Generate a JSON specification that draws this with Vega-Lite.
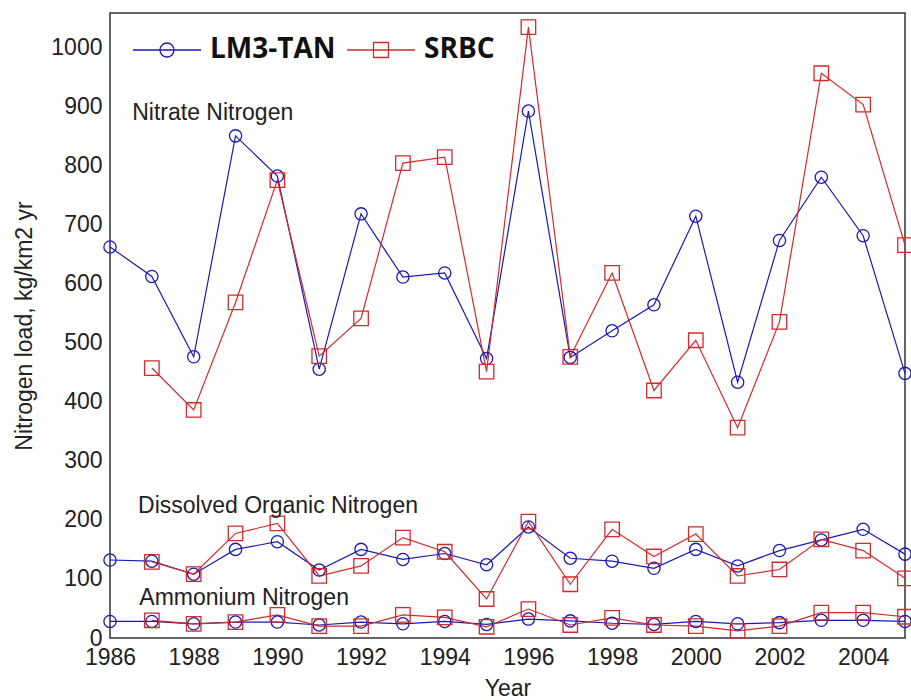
{
  "$schema": "https://vega.github.io/schema/vega-lite/v6.json",
  "autosize": "none",
  "width": 795,
  "height": 625,
  "padding": {"left": 110, "top": 13, "right": 6, "bottom": 62},
  "background": "white",
  "datasets": {
    "loads": [
      {"year": 1986, "site": "LM3-TAN", "kind": "Nitrate", "load": 662},
      {"year": 1987, "site": "LM3-TAN", "kind": "Nitrate", "load": 612},
      {"year": 1988, "site": "LM3-TAN", "kind": "Nitrate", "load": 476},
      {"year": 1989, "site": "LM3-TAN", "kind": "Nitrate", "load": 850},
      {"year": 1990, "site": "LM3-TAN", "kind": "Nitrate", "load": 782},
      {"year": 1991, "site": "LM3-TAN", "kind": "Nitrate", "load": 455},
      {"year": 1992, "site": "LM3-TAN", "kind": "Nitrate", "load": 718},
      {"year": 1993, "site": "LM3-TAN", "kind": "Nitrate", "load": 611},
      {"year": 1994, "site": "LM3-TAN", "kind": "Nitrate", "load": 618},
      {"year": 1995, "site": "LM3-TAN", "kind": "Nitrate", "load": 473},
      {"year": 1996, "site": "LM3-TAN", "kind": "Nitrate", "load": 892},
      {"year": 1997, "site": "LM3-TAN", "kind": "Nitrate", "load": 475},
      {"year": 1998, "site": "LM3-TAN", "kind": "Nitrate", "load": 520},
      {"year": 1999, "site": "LM3-TAN", "kind": "Nitrate", "load": 564},
      {"year": 2000, "site": "LM3-TAN", "kind": "Nitrate", "load": 714},
      {"year": 2001, "site": "LM3-TAN", "kind": "Nitrate", "load": 433},
      {"year": 2002, "site": "LM3-TAN", "kind": "Nitrate", "load": 673},
      {"year": 2003, "site": "LM3-TAN", "kind": "Nitrate", "load": 780},
      {"year": 2004, "site": "LM3-TAN", "kind": "Nitrate", "load": 681},
      {"year": 2005, "site": "LM3-TAN", "kind": "Nitrate", "load": 448},
      {"year": 1987, "site": "SRBC", "kind": "Nitrate", "load": 457},
      {"year": 1988, "site": "SRBC", "kind": "Nitrate", "load": 386},
      {"year": 1989, "site": "SRBC", "kind": "Nitrate", "load": 568},
      {"year": 1990, "site": "SRBC", "kind": "Nitrate", "load": 775},
      {"year": 1991, "site": "SRBC", "kind": "Nitrate", "load": 477},
      {"year": 1992, "site": "SRBC", "kind": "Nitrate", "load": 541},
      {"year": 1993, "site": "SRBC", "kind": "Nitrate", "load": 804},
      {"year": 1994, "site": "SRBC", "kind": "Nitrate", "load": 814},
      {"year": 1995, "site": "SRBC", "kind": "Nitrate", "load": 451},
      {"year": 1996, "site": "SRBC", "kind": "Nitrate", "load": 1034},
      {"year": 1997, "site": "SRBC", "kind": "Nitrate", "load": 476},
      {"year": 1998, "site": "SRBC", "kind": "Nitrate", "load": 618},
      {"year": 1999, "site": "SRBC", "kind": "Nitrate", "load": 419},
      {"year": 2000, "site": "SRBC", "kind": "Nitrate", "load": 504},
      {"year": 2001, "site": "SRBC", "kind": "Nitrate", "load": 356},
      {"year": 2002, "site": "SRBC", "kind": "Nitrate", "load": 535},
      {"year": 2003, "site": "SRBC", "kind": "Nitrate", "load": 956},
      {"year": 2004, "site": "SRBC", "kind": "Nitrate", "load": 903},
      {"year": 2005, "site": "SRBC", "kind": "Nitrate", "load": 665},
      {"year": 1986, "site": "LM3-TAN", "kind": "DON", "load": 132},
      {"year": 1987, "site": "LM3-TAN", "kind": "DON", "load": 130},
      {"year": 1988, "site": "LM3-TAN", "kind": "DON", "load": 108},
      {"year": 1989, "site": "LM3-TAN", "kind": "DON", "load": 150},
      {"year": 1990, "site": "LM3-TAN", "kind": "DON", "load": 163},
      {"year": 1991, "site": "LM3-TAN", "kind": "DON", "load": 115},
      {"year": 1992, "site": "LM3-TAN", "kind": "DON", "load": 150},
      {"year": 1993, "site": "LM3-TAN", "kind": "DON", "load": 133},
      {"year": 1994, "site": "LM3-TAN", "kind": "DON", "load": 143},
      {"year": 1995, "site": "LM3-TAN", "kind": "DON", "load": 124},
      {"year": 1996, "site": "LM3-TAN", "kind": "DON", "load": 188},
      {"year": 1997, "site": "LM3-TAN", "kind": "DON", "load": 135},
      {"year": 1998, "site": "LM3-TAN", "kind": "DON", "load": 130},
      {"year": 1999, "site": "LM3-TAN", "kind": "DON", "load": 118},
      {"year": 2000, "site": "LM3-TAN", "kind": "DON", "load": 150},
      {"year": 2001, "site": "LM3-TAN", "kind": "DON", "load": 122},
      {"year": 2002, "site": "LM3-TAN", "kind": "DON", "load": 148},
      {"year": 2003, "site": "LM3-TAN", "kind": "DON", "load": 166},
      {"year": 2004, "site": "LM3-TAN", "kind": "DON", "load": 184},
      {"year": 2005, "site": "LM3-TAN", "kind": "DON", "load": 142},
      {"year": 1987, "site": "SRBC", "kind": "DON", "load": 129},
      {"year": 1988, "site": "SRBC", "kind": "DON", "load": 108},
      {"year": 1989, "site": "SRBC", "kind": "DON", "load": 177},
      {"year": 1990, "site": "SRBC", "kind": "DON", "load": 194},
      {"year": 1991, "site": "SRBC", "kind": "DON", "load": 105},
      {"year": 1992, "site": "SRBC", "kind": "DON", "load": 122},
      {"year": 1993, "site": "SRBC", "kind": "DON", "load": 170},
      {"year": 1994, "site": "SRBC", "kind": "DON", "load": 146},
      {"year": 1995, "site": "SRBC", "kind": "DON", "load": 66},
      {"year": 1996, "site": "SRBC", "kind": "DON", "load": 197},
      {"year": 1997, "site": "SRBC", "kind": "DON", "load": 91},
      {"year": 1998, "site": "SRBC", "kind": "DON", "load": 184},
      {"year": 1999, "site": "SRBC", "kind": "DON", "load": 138},
      {"year": 2000, "site": "SRBC", "kind": "DON", "load": 176},
      {"year": 2001, "site": "SRBC", "kind": "DON", "load": 105},
      {"year": 2002, "site": "SRBC", "kind": "DON", "load": 116},
      {"year": 2003, "site": "SRBC", "kind": "DON", "load": 167},
      {"year": 2004, "site": "SRBC", "kind": "DON", "load": 148},
      {"year": 2005, "site": "SRBC", "kind": "DON", "load": 101},
      {"year": 1986, "site": "LM3-TAN", "kind": "Ammonium", "load": 28},
      {"year": 1987, "site": "LM3-TAN", "kind": "Ammonium", "load": 28},
      {"year": 1988, "site": "LM3-TAN", "kind": "Ammonium", "load": 24},
      {"year": 1989, "site": "LM3-TAN", "kind": "Ammonium", "load": 27},
      {"year": 1990, "site": "LM3-TAN", "kind": "Ammonium", "load": 27},
      {"year": 1991, "site": "LM3-TAN", "kind": "Ammonium", "load": 22},
      {"year": 1992, "site": "LM3-TAN", "kind": "Ammonium", "load": 27},
      {"year": 1993, "site": "LM3-TAN", "kind": "Ammonium", "load": 24},
      {"year": 1994, "site": "LM3-TAN", "kind": "Ammonium", "load": 28},
      {"year": 1995, "site": "LM3-TAN", "kind": "Ammonium", "load": 23},
      {"year": 1996, "site": "LM3-TAN", "kind": "Ammonium", "load": 32},
      {"year": 1997, "site": "LM3-TAN", "kind": "Ammonium", "load": 29},
      {"year": 1998, "site": "LM3-TAN", "kind": "Ammonium", "load": 25},
      {"year": 1999, "site": "LM3-TAN", "kind": "Ammonium", "load": 23},
      {"year": 2000, "site": "LM3-TAN", "kind": "Ammonium", "load": 28},
      {"year": 2001, "site": "LM3-TAN", "kind": "Ammonium", "load": 24},
      {"year": 2002, "site": "LM3-TAN", "kind": "Ammonium", "load": 26},
      {"year": 2003, "site": "LM3-TAN", "kind": "Ammonium", "load": 30},
      {"year": 2004, "site": "LM3-TAN", "kind": "Ammonium", "load": 30},
      {"year": 2005, "site": "LM3-TAN", "kind": "Ammonium", "load": 28},
      {"year": 1987, "site": "SRBC", "kind": "Ammonium", "load": 30},
      {"year": 1988, "site": "SRBC", "kind": "Ammonium", "load": 24},
      {"year": 1989, "site": "SRBC", "kind": "Ammonium", "load": 27},
      {"year": 1990, "site": "SRBC", "kind": "Ammonium", "load": 39},
      {"year": 1991, "site": "SRBC", "kind": "Ammonium", "load": 20},
      {"year": 1992, "site": "SRBC", "kind": "Ammonium", "load": 20},
      {"year": 1993, "site": "SRBC", "kind": "Ammonium", "load": 39},
      {"year": 1994, "site": "SRBC", "kind": "Ammonium", "load": 35},
      {"year": 1995, "site": "SRBC", "kind": "Ammonium", "load": 19},
      {"year": 1996, "site": "SRBC", "kind": "Ammonium", "load": 49},
      {"year": 1997, "site": "SRBC", "kind": "Ammonium", "load": 22},
      {"year": 1998, "site": "SRBC", "kind": "Ammonium", "load": 34},
      {"year": 1999, "site": "SRBC", "kind": "Ammonium", "load": 22},
      {"year": 2000, "site": "SRBC", "kind": "Ammonium", "load": 20},
      {"year": 2001, "site": "SRBC", "kind": "Ammonium", "load": 12},
      {"year": 2002, "site": "SRBC", "kind": "Ammonium", "load": 20},
      {"year": 2003, "site": "SRBC", "kind": "Ammonium", "load": 43},
      {"year": 2004, "site": "SRBC", "kind": "Ammonium", "load": 43},
      {"year": 2005, "site": "SRBC", "kind": "Ammonium", "load": 36}
    ],
    "labels": [
      {"year": 1986.53, "load": 877, "text": "Nitrate Nitrogen"},
      {"year": 1986.67, "load": 212, "text": "Dissolved Organic Nitrogen"},
      {"year": 1986.7, "load": 56, "text": "Ammonium Nitrogen"}
    ],
    "xticks": [
      {"year": 1986}, {"year": 1988}, {"year": 1990}, {"year": 1992}, {"year": 1994},
      {"year": 1996}, {"year": 1998}, {"year": 2000}, {"year": 2002}, {"year": 2004}
    ],
    "yticks": [
      {"load": 0}, {"load": 100}, {"load": 200}, {"load": 300}, {"load": 400}, {"load": 500},
      {"load": 600}, {"load": 700}, {"load": 800}, {"load": 900}, {"load": 1000}
    ]
  },
  "config": {
    "view": {"stroke": "#333333", "strokeWidth": 1.5},
    "axis": {
      "grid": false,
      "domain": false,
      "ticks": false,
      "tickSize": 0,
      "labelFont": "Liberation Sans",
      "labelFontSize": 23,
      "labelColor": "#222222",
      "titleFont": "Liberation Sans",
      "titleFontSize": 23,
      "titleFontWeight": "normal",
      "titleColor": "#222222",
      "labelPadding": 8
    },
    "legend": {
      "title": null,
      "orient": "none",
      "direction": "horizontal",
      "legendX": 22,
      "legendY": 2,
      "padding": 0,
      "columnPadding": 8,
      "labelOffset": 8,
      "labelFont": "Open Sans",
      "labelFontSize": 28,
      "labelFontWeight": "bold",
      "labelColor": "#111111",
      "symbolSize": 4624,
      "symbolStrokeWidth": 1.3,
      "symbolFillColor": "transparent"
    }
  },
  "encoding": {
    "x": {
      "field": "year", "type": "quantitative",
      "scale": {"domain": [1986, 2005], "nice": false, "zero": false},
      "axis": {
        "title": "Year",
        "values": [1986, 1988, 1990, 1992, 1994, 1996, 1998, 2000, 2002, 2004],
        "format": "d",
        "labelFlush": false,
        "titlePadding": 8
      }
    },
    "y": {
      "field": "load", "type": "quantitative",
      "scale": {"domain": [0, 1058], "nice": false},
      "axis": {
        "title": "Nitrogen load, kg/km2 yr",
        "values": [0, 100, 200, 300, 400, 500, 600, 700, 800, 900, 1000],
        "format": "d",
        "labelFlush": false,
        "titlePadding": 14
      }
    }
  },
  "layer": [
    {
      "data": {"name": "xticks"},
      "mark": {"type": "rule", "color": "#222222", "strokeWidth": 1.3},
      "encoding": {"y": {"datum": 0}, "y2": {"datum": 13.5}}
    },
    {
      "data": {"name": "xticks"},
      "mark": {"type": "rule", "color": "#222222", "strokeWidth": 1.3},
      "encoding": {"y": {"datum": 1044.5}, "y2": {"datum": 1058}}
    },
    {
      "data": {"name": "yticks"},
      "mark": {"type": "rule", "color": "#222222", "strokeWidth": 1.3},
      "encoding": {"x": {"datum": 1986}, "x2": {"datum": 1986.19}}
    },
    {
      "data": {"name": "yticks"},
      "mark": {"type": "rule", "color": "#222222", "strokeWidth": 1.3},
      "encoding": {"x": {"datum": 2004.81}, "x2": {"datum": 2005}}
    },
    {
      "data": {"name": "loads"},
      "transform": [{"filter": "datum.site === 'LM3-TAN'"}],
      "mark": {"type": "line", "strokeWidth": 1.2, "color": "#1a1ab4"},
      "encoding": {"detail": {"field": "kind", "type": "nominal"}}
    },
    {
      "data": {"name": "loads"},
      "transform": [{"filter": "datum.site === 'SRBC'"}],
      "mark": {"type": "line", "strokeWidth": 1.2, "color": "#d42a2a"},
      "encoding": {"detail": {"field": "kind", "type": "nominal"}}
    },
    {
      "data": {"name": "loads"},
      "transform": [{"filter": "datum.site === 'LM3-TAN'"}],
      "mark": {"type": "point", "shape": "circle", "filled": false,
        "size": 150, "strokeWidth": 1.3, "opacity": 1},
      "encoding": {
        "color": {
          "field": "site", "type": "nominal",
          "scale": {"domain": ["LM3-TAN", "SRBC"], "range": ["#1a1ab4", "#d42a2a"]},
          "legend": {
            "symbolType": {"expr": "datum.value === 'LM3-TAN' ? 'M-1,0H1M-0.206,0A0.206,0.206 0 1,0 0.206,0A0.206,0.206 0 1,0 -0.206,0' : 'M-1,0H1M-0.22,-0.22H0.22V0.22H-0.22Z'"}
          }
        }
      }
    },
    {
      "data": {"name": "loads"},
      "transform": [{"filter": "datum.site === 'SRBC'"}],
      "mark": {"type": "point", "shape": "square", "filled": false,
        "size": 210, "strokeWidth": 1.3, "opacity": 1},
      "encoding": {
        "color": {
          "field": "site", "type": "nominal",
          "scale": {"domain": ["LM3-TAN", "SRBC"], "range": ["#1a1ab4", "#d42a2a"]},
          "legend": {
            "symbolType": {"expr": "datum.value === 'LM3-TAN' ? 'M-1,0H1M-0.206,0A0.206,0.206 0 1,0 0.206,0A0.206,0.206 0 1,0 -0.206,0' : 'M-1,0H1M-0.22,-0.22H0.22V0.22H-0.22Z'"}
          }
        }
      }
    },
    {
      "data": {"name": "labels"},
      "mark": {"type": "text", "align": "left", "baseline": "alphabetic",
        "font": "Liberation Sans", "fontSize": 23, "color": "#222222"},
      "encoding": {"text": {"field": "text"}}
    }
  ]
}
